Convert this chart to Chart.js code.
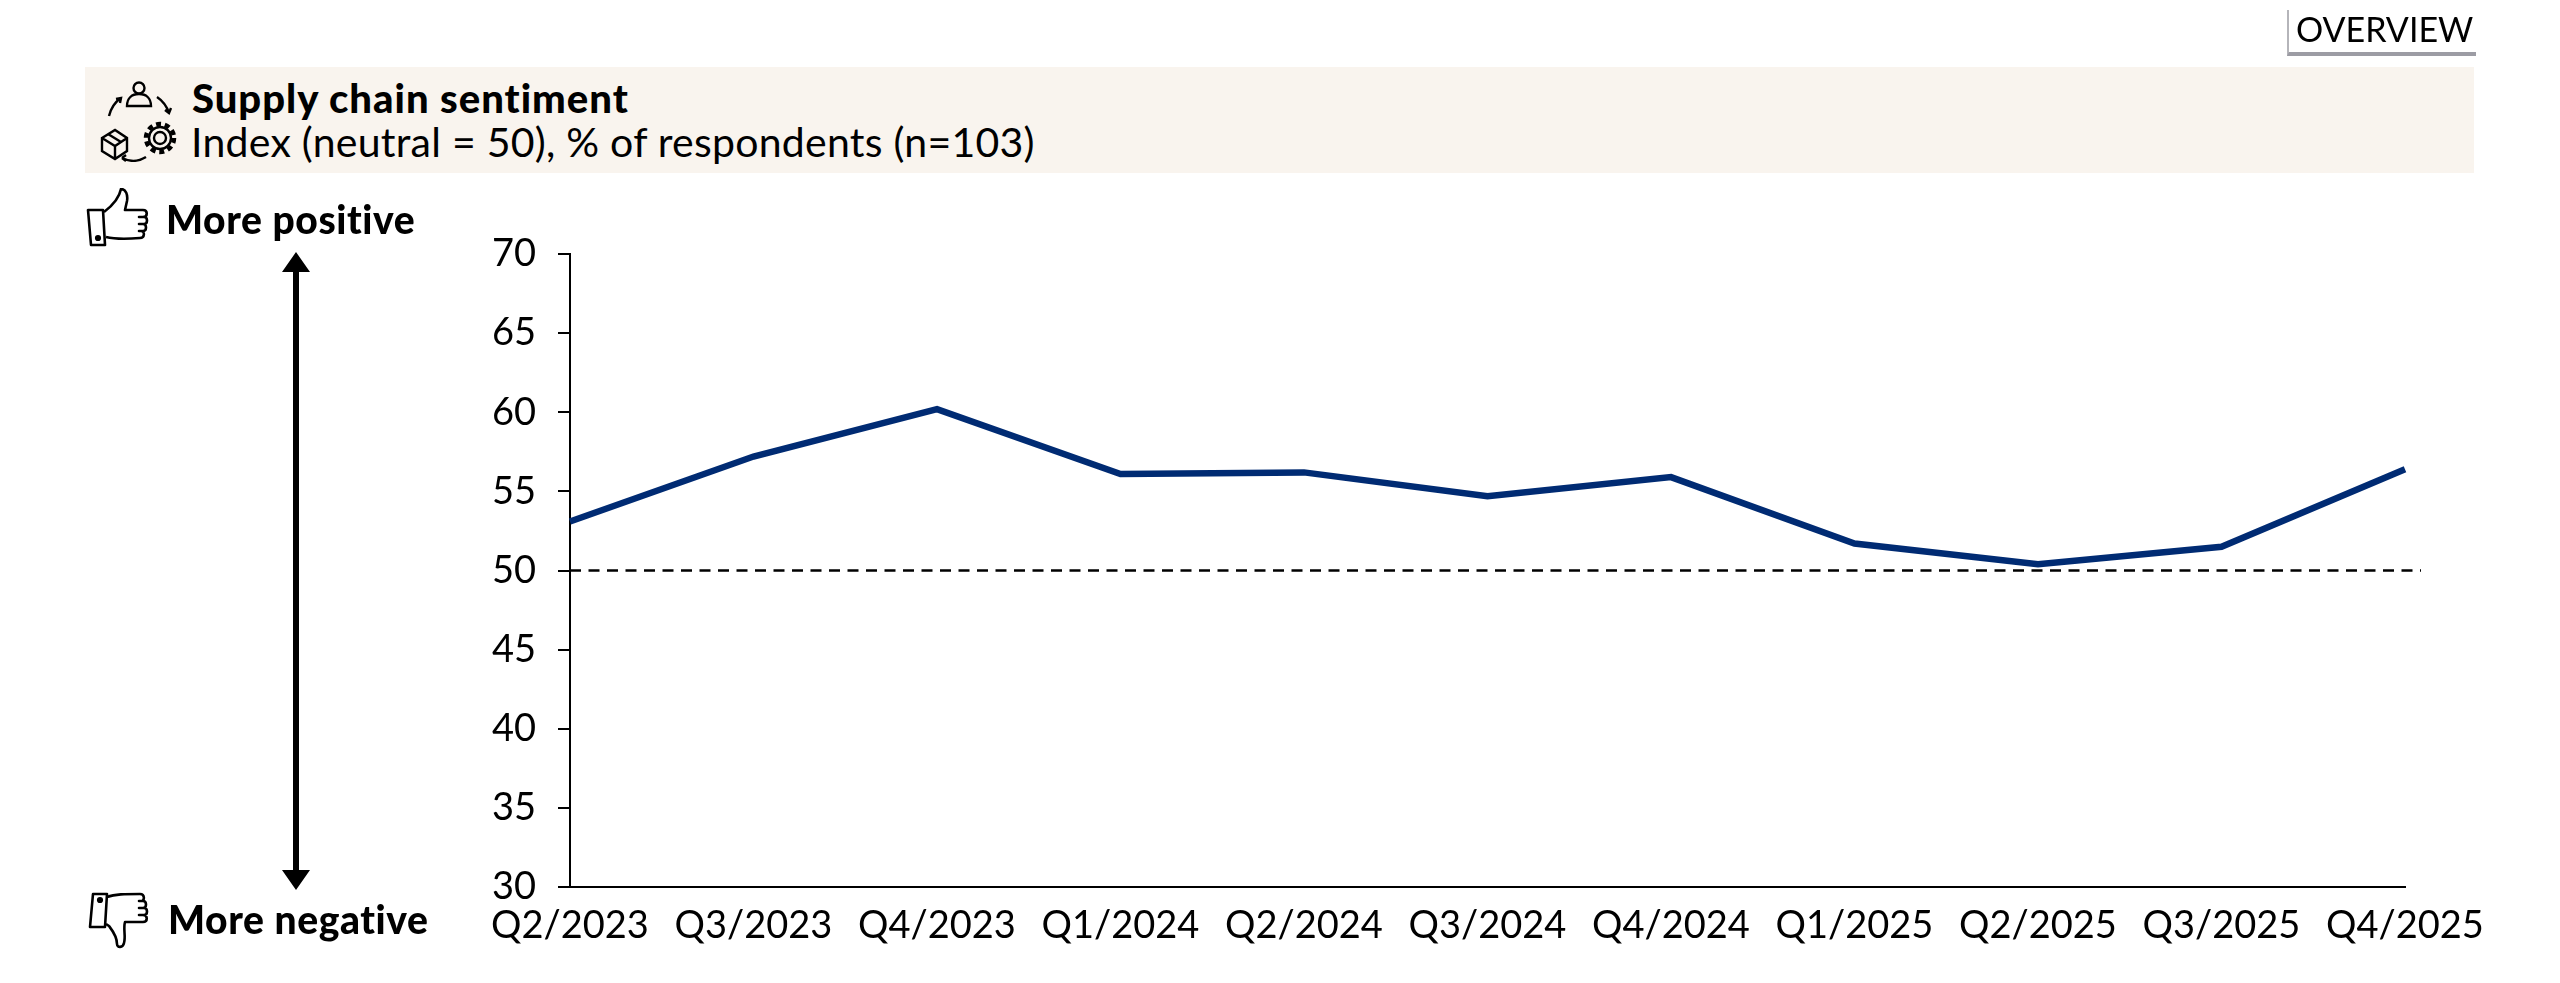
<!DOCTYPE html>
<html>
<head>
<meta charset="utf-8">
<title>Supply chain sentiment</title>
<script src="https://cdn.jsdelivr.net/npm/chart.js@4"></script>
<style>
  html, body { margin: 0; padding: 0; background: #fff; }
  body { width: 2560px; height: 983px; position: relative; overflow: hidden; font-family: Lato, sans-serif; color: #000; }
  #myChart { position: absolute; left: 0; top: 0; }
  .abs { position: absolute; white-space: nowrap; }
  #banner { left: 85px; top: 67px; width: 2389px; height: 106px; background: #f9f4ee; }
  #overview { left: 2287px; top: 10px; width: 187px; height: 42px; border-left: 2px solid #b5b5ba; border-bottom: 4px solid #9c9ca4; }
  #overviewText { left: 2296px; top: 10px; font: 34px Lato, sans-serif; line-height: 38px; }
  #title { left: 192px; top: 75px; font: 900 40px Lato, sans-serif; letter-spacing: 1px; line-height: 46px; }
  #subtitle { left: 191px; top: 119px; font: 41px Lato, sans-serif; letter-spacing: 0.25px; line-height: 46px; }
  .side { font: 900 39px Lato, sans-serif; letter-spacing: 0.6px; line-height: 46px; }
</style>
</head>
<body>
<canvas id="myChart" width="2560" height="983"></canvas>

<div class="abs" id="banner"></div>
<div class="abs" id="overview"></div>
<div class="abs" id="overviewText">OVERVIEW</div>
<div class="abs" id="title">Supply chain sentiment</div>
<div class="abs" id="subtitle">Index (neutral = 50), % of respondents (n=103)</div>
<div class="abs side" style="left:166px;top:196px">More positive</div>
<div class="abs side" style="left:168px;top:896px">More negative</div>

<!-- supply chain icon -->
<svg class="abs" style="left:98px;top:78px" width="82" height="84" viewBox="0 0 82 84" fill="none" stroke="#000" stroke-width="2.4">
  <circle cx="41" cy="10" r="5.5"/>
  <path d="M29 28c0-8 5-12 12-12s12 4 12 12z"/>
  <path d="M11 38c2-8 6-14 12-18M18 21l5-1-1 5"/>
  <path d="M59 19c6 4 10 10 12 16M73 30l-2 5-4-3"/>
  <path d="M4 60l13-8 12 8v13l-12 8-13-8zM4 60l13 8 12-8M17 68v13M10 56l13 8"/>
  <circle cx="62" cy="60" r="6"/>
  <circle cx="62" cy="60" r="14" stroke-dasharray="5 3.8" stroke-width="4.5"/>
  <circle cx="62" cy="60" r="11"/>
  <path d="M24 80c8 4 16 4 24-1M24 80l4-3M24 80l4 3"/>
</svg>

<!-- thumbs -->
<svg class="abs" style="left:86px;top:188px" width="66" height="60" viewBox="0 0 66 60" fill="none" stroke="#000" stroke-width="2.6" stroke-linejoin="round">
  <path d="M2 22h15l2 35H5z"/>
  <circle cx="12" cy="50" r="1.8" fill="#000"/>
  <path d="M18 24c8-6 15-13 17-23 5 0 7 6 6 12l-2 9h18c5 0 5 7 0 7h-4 5c4 0 4 7 0 7h-5 4c4 0 4 7 0 7h-4 2c4 0 4 7-1 7-12 1-26 1-34-1"/>
</svg>
<svg class="abs" style="left:88px;top:892px" width="66" height="60" viewBox="0 0 66 60" fill="none" stroke="#000" stroke-width="2.6" stroke-linejoin="round">
  <path d="M5 2h14l-2 33H2z"/>
  <circle cx="12" cy="8" r="1.8" fill="#000"/>
  <path d="M19 5c8-3 18-3 33-3 5 0 5 7 1 7h-2 4c4 0 4 7 0 7h-4 5c4 0 4 7 0 7h-5 4c5 0 5 7 0 7H37c-2 7 1 14-1 21-1 5-7 5-7 1 0-8-5-14-8-18l-3-2"/>
</svg>

<!-- arrow -->
<svg class="abs" style="left:280px;top:250px" width="32" height="642" viewBox="0 0 32 642">
  <rect x="13" y="20" width="6" height="602" fill="#000"/>
  <path d="M16 2L30 22H2zM16 640L30 620H2z" fill="#000"/>
</svg>

<script>
var categories = ['Q2/2023', 'Q3/2023', 'Q4/2023', 'Q1/2024', 'Q2/2024', 'Q3/2024', 'Q4/2024', 'Q1/2025', 'Q2/2025', 'Q3/2025', 'Q4/2025'];
var sentiment = [53.1, 57.2, 60.2, 56.1, 56.2, 54.7, 55.9, 51.7, 50.4, 51.5, 56.4];
var yTicks = [30, 35, 40, 45, 50, 55, 60, 65, 70];
var neutral = 50;

// dashed neutral line, runs a bit past the last category
var neutralLine = {
    id: 'neutralLine',
    afterDatasetsDraw: function (chart) {
        var ctx = chart.ctx;
        var y = chart.scales.y.getPixelForValue(neutral);
        ctx.save();
        ctx.strokeStyle = '#000';
        ctx.lineWidth = 2.5;
        ctx.setLineDash([11, 7.5]);
        ctx.beginPath();
        ctx.moveTo(chart.chartArea.left, y);
        ctx.lineTo(chart.chartArea.right + 16, y);
        ctx.stroke();
        ctx.restore();
    }
};

new Chart(document.getElementById('myChart').getContext('2d'), {
    type: 'line',
    data: {
        labels: categories,
        datasets: [{
            label: 'Supply chain sentiment',
            data: sentiment,
            borderColor: '#002b73',
            borderWidth: 6.5,
            borderCapStyle: 'butt',
            borderJoinStyle: 'miter',
            pointRadius: 0,
            tension: 0,
            fill: false,
            clip: false
        }]
    },
    options: {
        responsive: false,
        animation: false,
        layout: { padding: { top: 254, right: 155, left: 0, bottom: 0 } },
        plugins: { legend: { display: false }, title: { display: false }, tooltip: { enabled: false } },
        scales: {
            x: {
                offset: false,
                grid: { display: false },
                border: { display: true, color: '#000', width: 2 },
                ticks: { color: '#000', font: { family: 'Lato', size: 38 }, padding: 8, maxRotation: 0, autoSkip: false },
                afterFit: function (scale) { scale.height = 96; }
            },
            y: {
                min: 30,
                max: 70,
                afterBuildTicks: function (scale) { scale.ticks = yTicks.map(function (v) { return { value: v }; }); },
                grid: { drawOnChartArea: false, drawTicks: true, tickLength: 12, color: '#000', lineWidth: 2 },
                border: { display: true, color: '#000', width: 2 },
                ticks: { color: '#000', font: { family: 'Lato', size: 38 }, padding: 22 },
                afterFit: function (scale) { scale.width = 570; }
            }
        }
    },
    plugins: [neutralLine]
});
</script>
</body>
</html>
